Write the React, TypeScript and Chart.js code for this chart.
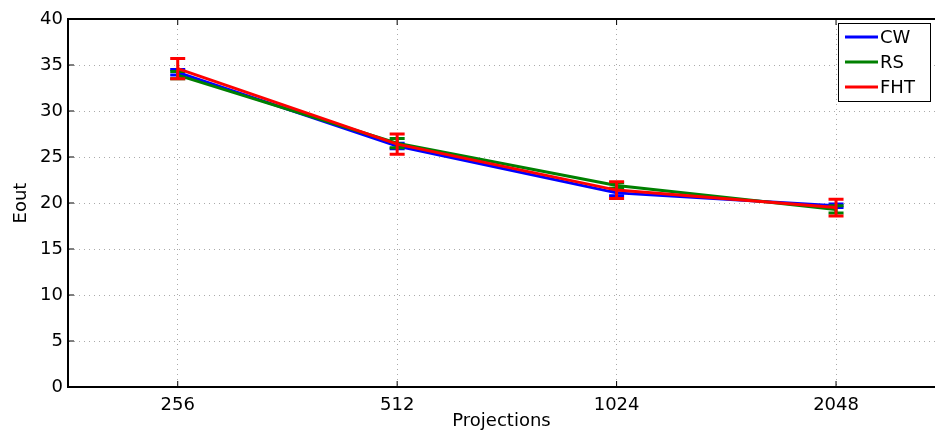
import React, { useEffect, useRef } from "react";
import { Chart, registerables } from "chart.js";

Chart.register(...registerables);

const categories = ["256", "512", "1024", "2048"];
const cwValues = [34.2, 26.2, 21.1, 19.7];
const rsValues = [33.9, 26.5, 21.9, 19.3];
const fhtValues = [34.6, 26.4, 21.4, 19.5];
const cwErrors = [0.3, 0.3, 0.3, 0.2];
const rsErrors = [0.4, 0.5, 0.3, 0.4];
const fhtErrors = [1.1, 1.1, 0.9, 0.9];
const yTicks = [0, 5, 10, 15, 20, 25, 30, 35, 40];

const seriesNames = ["CW", "RS", "FHT"];
const seriesColors = ["#0000ff", "#008000", "#ff0000"];
const FONT = "'DejaVu Sans', sans-serif";

export default function App() {
  const ref = useRef<HTMLCanvasElement | null>(null);

  useEffect(() => {
    const canvas = ref.current;
    if (!canvas) return;
    const values = [cwValues, rsValues, fhtValues];
    const errors = [cwErrors, rsErrors, fhtErrors];

    const errorBars = {
      id: "errorBars",
      afterDatasetDraw(chart: any, args: any) {
        const i = args.index;
        const ctx = chart.ctx;
        const xs = chart.scales.x;
        const ys = chart.scales.y;
        ctx.save();
        ctx.strokeStyle = seriesColors[i];
        ctx.lineWidth = 3;
        values[i].forEach((v: number, j: number) => {
          const x = xs.getPixelForValue(j + 1);
          const t = ys.getPixelForValue(v + errors[i][j]);
          const b = ys.getPixelForValue(v - errors[i][j]);
          ctx.beginPath();
          ctx.moveTo(x, t);
          ctx.lineTo(x, b);
          ctx.moveTo(x - 7.5, t);
          ctx.lineTo(x + 7.5, t);
          ctx.moveTo(x - 7.5, b);
          ctx.lineTo(x + 7.5, b);
          ctx.stroke();
        });
        ctx.restore();
      },
    };

    const frame = {
      id: "frame",
      afterDraw(chart: any) {
        const ctx = chart.ctx;
        const a = chart.chartArea;
        const xs = chart.scales.x;
        const ys = chart.scales.y;
        ctx.save();
        ctx.strokeStyle = "#000";
        ctx.lineWidth = 2;
        ctx.beginPath();
        ctx.moveTo(a.left, a.top);
        ctx.lineTo(a.right, a.top);
        ctx.stroke();
        ctx.lineWidth = 1;
        ctx.beginPath();
        yTicks.forEach((t) => {
          const y = ys.getPixelForValue(t);
          ctx.moveTo(a.left, y);
          ctx.lineTo(a.left + 6, y);
        });
        categories.forEach((_, j) => {
          const x = xs.getPixelForValue(j + 1);
          ctx.moveTo(x, a.bottom);
          ctx.lineTo(x, a.bottom - 6);
          ctx.moveTo(x, a.top);
          ctx.lineTo(x, a.top + 6);
        });
        ctx.stroke();

        // legend
        const bx = 838, by = 23, bw = 92, bh = 78;
        ctx.fillStyle = "#fff";
        ctx.fillRect(bx, by, bw, bh);
        ctx.strokeStyle = "#000";
        ctx.lineWidth = 1;
        ctx.strokeRect(bx + 0.5, by + 0.5, bw, bh);
        ctx.font = "18px " + FONT;
        ctx.textBaseline = "middle";
        ctx.textAlign = "left";
        const rows = [37, 62, 87];
        seriesNames.forEach((n, i) => {
          ctx.strokeStyle = seriesColors[i];
          ctx.lineWidth = 3;
          ctx.beginPath();
          ctx.moveTo(845, rows[i]);
          ctx.lineTo(878, rows[i]);
          ctx.stroke();
          ctx.fillStyle = "#000";
          ctx.fillText(n, 880, rows[i] + 1);
        });
        ctx.restore();
      },
    };

    const chart = new Chart(canvas, {
      type: "line",
      data: {
        datasets: seriesNames.map((n, i) => ({
          label: n,
          data: values[i].map((v, j) => ({ x: j + 1, y: v })),
          borderColor: seriesColors[i],
          backgroundColor: seriesColors[i],
          borderWidth: 3,
          pointRadius: 0,
          tension: 0,
          order: 2 - i,
        })),
      },
      options: {
        responsive: false,
        animation: false,
        layout: { padding: { top: 19, right: 0, left: 0, bottom: 0 } },
        plugins: { legend: { display: false }, tooltip: { enabled: false } },
        scales: {
          x: {
            type: "linear",
            min: 0.5,
            max: 4.451,
            afterBuildTicks: (s: any) => {
              s.ticks = categories.map((_, j) => ({ value: j + 1 }));
            },
            afterFit: (s: any) => {
              s.height = 45;
            },
            ticks: {
              autoSkip: false,
              maxRotation: 0,
              padding: 8,
              color: "#000",
              font: { family: FONT, size: 18 },
              callback: (v: any) => categories[Math.round(v) - 1] ?? "",
            },
            grid: { color: "#aaa", drawTicks: false, lineWidth: 1 },
            border: { color: "#000", width: 2, dash: [1, 4] },
            title: {
              display: true,
              text: "Projections",
              color: "#000",
              font: { family: FONT, size: 18 },
              padding: { top: -5, bottom: 0 },
            },
          },
          y: {
            min: 0,
            max: 40,
            afterBuildTicks: (s: any) => {
              s.ticks = yTicks.map((v) => ({ value: v }));
            },
            afterFit: (s: any) => {
              s.width = 68;
            },
            ticks: {
              padding: 5,
              color: "#000",
              font: { family: FONT, size: 18 },
            },
            grid: { color: "#aaa", drawTicks: false, lineWidth: 1 },
            border: { color: "#000", width: 2, dash: [1, 4] },
            title: {
              display: true,
              text: "Eout",
              color: "#000",
              font: { family: FONT, size: 18 },
              padding: { top: 11, bottom: 0 },
            },
          },
        },
      },
      plugins: [errorBars, frame],
    } as any);
    return () => chart.destroy();
  }, []);

  return (
    <div style={{ position: "fixed", left: 0, top: 0, width: 935, height: 432, background: "#fff" }}>
      <canvas ref={ref} width={935} height={432} style={{ display: "block" }} />
    </div>
  );
}
